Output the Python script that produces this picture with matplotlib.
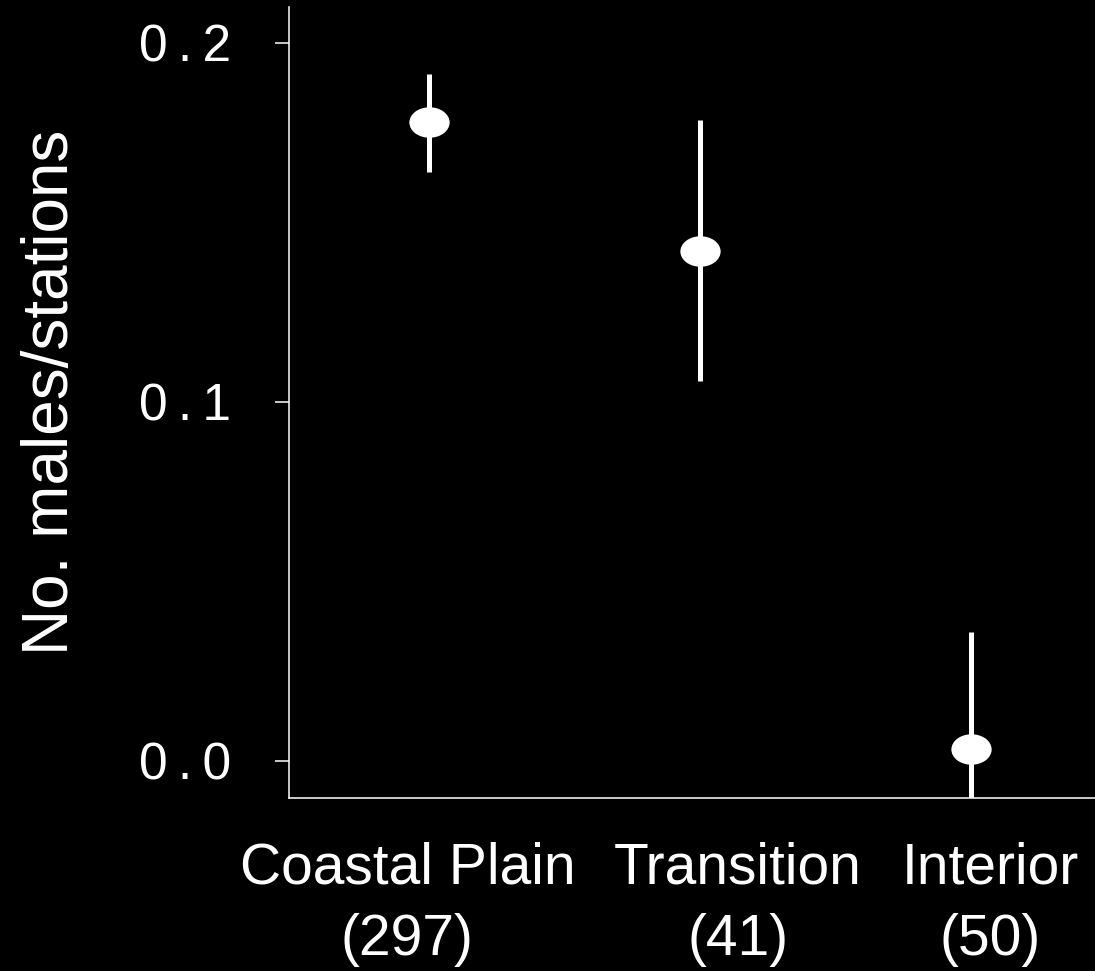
import numpy as np
import matplotlib
matplotlib.use('Agg')
import matplotlib.pyplot as plt
from matplotlib.path import Path
from matplotlib.transforms import Affine2D

plt.rcParams['font.family'] = ['Liberation Sans', 'DejaVu Sans']

# Datos
regiones = ['Coastal Plain\n(297)', 'Transition\n(41)', 'Interior\n(50)']
x = [1, 2, 3]
media = [0.178, 0.142, 0.0032]
sup = [0.1914, 0.1786, 0.0359]
inf = [0.1641, 0.1058, -0.0293]
pos_etiquetas = [0.92, 2.14, 3.07]

err = np.array([np.array(media) - np.array(inf), np.array(sup) - np.array(media)])

# Marcador eliptico
elipse = Path.unit_circle().transformed(Affine2D().scale(1.32, 1.0))

fig = plt.figure(figsize=(10.95, 9.71), dpi=100, facecolor='black')
ax = fig.add_axes([0.2639, 0.1782, 0.7361, 0.8146])
ax.set_facecolor('black')

ax.errorbar(x, media, yerr=err, fmt='none', ecolor='white', elinewidth=3.6,
            capsize=0, zorder=2)
ax.plot(x, media, linestyle='none', marker=elipse, markersize=29,
        color='white', markeredgewidth=0, zorder=3)

ax.set_xlim(0.483, 3.458)
ax.set_ylim(-0.0103, 0.21)

ax.set_yticks([0.0, 0.1, 0.2])
ax.set_yticklabels(['0\u2009.\u20090', '0\u2009.\u20091', '0\u2009.\u20092'])
ax.set_xticks(pos_etiquetas)
ax.set_xticklabels(regiones, linespacing=1.42)

for s in ['top', 'right']:
    ax.spines[s].set_visible(False)
for s in ['left', 'bottom']:
    ax.spines[s].set_color('white')
    ax.spines[s].set_linewidth(1.1)

ax.tick_params(axis='y', colors='white', length=10, width=1.1, pad=32,
               labelsize=37, direction='out')
ax.tick_params(axis='x', colors='white', length=0, pad=31, labelsize=41)

ax.set_ylabel('No. males/stations', color='white', fontsize=46)
ax.yaxis.set_label_coords(-0.258, 0.513)

fig.savefig('out.png', dpi=100, facecolor='black')
